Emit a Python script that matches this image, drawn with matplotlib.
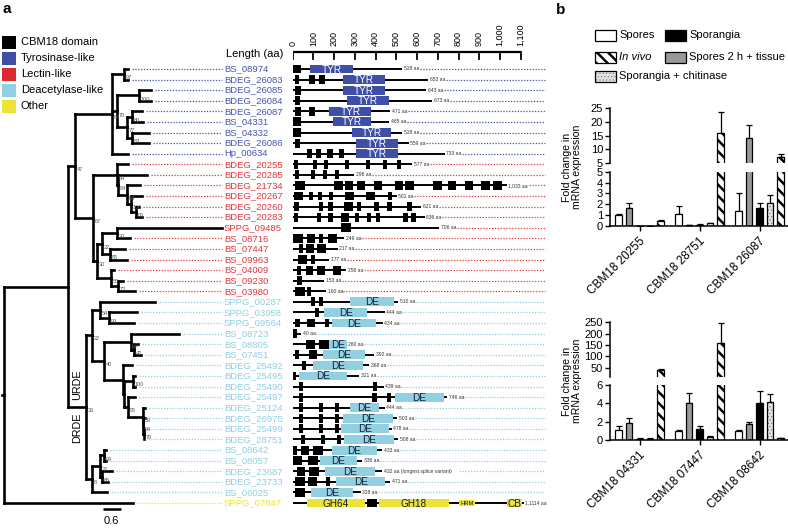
import matplotlib
matplotlib.use('Agg')
import matplotlib.pyplot as plt
from matplotlib.patches import Rectangle

W, H = 788, 529
plt.rcParams['font.family'] = ['Liberation Sans', 'DejaVu Sans']

# ---------------- DATA ----------------
# phylogeny (branch lengths in substitutions/site, internal labels = bootstrap)
NEWICK_TYR = ("((BS_08974:0.133,BDEG_26083:0.133)97:0.4,((BDEG_26085:0.4,BDEG_26084:0.4)100:0.733,"
              "((BDEG_26087:0.333,BS_04331:0.367)80:0.167,(BS_04332:0.567,BDEG_26086:0.567)83:0.167)77:0.333)70:0.167,"
              "Hp_00634:0.533)64")
NEWICK_LEC = ("((BDEG_20255:0.367,(BDEG_20285:0.967,(BDEG_21734:0.433,(BDEG_20267:0.367,"
              "(BDEG_20260:0.1,BDEG_20283:0.2)83:0.167)100:0.133)64:0.3)84:0.033)54:0.8,"
              "(((SPPG_09485:3.5,BS_08716:0.433)30:0.5,(BS_07447:0.5,BS_09963:0.567)85:0.267)22:0.167,"
              "(BS_04009:0.1,(BS_09230:0.167,BS_03980:0.567)72:0.233)50:0.467)30:0.133)67")
NEWICK_DE = ("(((SPPG_00287:1.833,(SPPG_03958:0.933,SPPG_09564:0.833)93:0.3)54:0.267,"
             "((BS_08723:1.6,(BS_08805:0.133,BS_07451:0.233)42:0.1)22:0.9,"
             "(BDEG_25492:0.3,((BDEG_25495:0.067,BDEG_25490:0.067)100:0.3,(BDEG_25497:0.233,"
             "(BDEG_25124:0.067,(BDEG_26975:0.05,(BDEG_25499:0.017,BDEG_28751:0.01)76:0.017)54:0.017)53:0.5)95:0.133):0.033):0.633)40:0.4)22:0.2,"
             "(((BS_08642:0.067,BS_08057:0.067)99:0.133,(BDEG_23687:0.333,BDEG_23733:0.2)65:0.067)32:0.267,BS_06025:0.5)8:0.2)33")
NEWICK = "(((" + NEWICK_TYR + ":1.233," + NEWICK_LEC + ":0.6)47:0.233," + NEWICK_DE + ":0.6):2.133,SPPG_07847:4.3);"

genes = ['BS_08974', 'BDEG_26083', 'BDEG_26085', 'BDEG_26084', 'BDEG_26087', 'BS_04331', 'BS_04332',
         'BDEG_26086', 'Hp_00634',
         'BDEG_20255', 'BDEG_20285', 'BDEG_21734', 'BDEG_20267', 'BDEG_20260', 'BDEG_20283', 'SPPG_09485',
         'BS_08716', 'BS_07447', 'BS_09963', 'BS_04009', 'BS_09230', 'BS_03980',
         'SPPG_00287', 'SPPG_03958', 'SPPG_09564', 'BS_08723', 'BS_08805', 'BS_07451', 'BDEG_25492',
         'BDEG_25495', 'BDEG_25490', 'BDEG_25497', 'BDEG_25124', 'BDEG_26975', 'BDEG_25499', 'BDEG_28751',
         'BS_08642', 'BS_08057', 'BDEG_23687', 'BDEG_23733', 'BS_06025',
         'SPPG_07847']
groups = ['tyr'] * 9 + ['lec'] * 13 + ['de'] * 19 + ['other']
lengths = [528, 653, 643, 673, 471, 465, 528, 559, 733,
           577, 298, 1033, 501, 621, 636, 706, 249, 217, 177, 258, 153, 160,
           510, 444, 434, 40, 260, 392, 368, 321, 439, 746, 444, 503, 478, 508, 433, 336, 432, 471, 328,
           1114]
length_labels = {11: '1,033 aa', 38: '432 aa (longest splice variant)', 41: '1,1114 aa'}

cbm_domains = [
    [(-10, 39)], [(13, 32), (77, 106), (125, 154)], [(13, 39)], [(10, 35)], [(13, 39), (77, 106)],
    [(-10, 39)], [(-10, 39)], [(10, 35)], [(68, 93), (113, 138), (167, 193), (222, 248)],
    [(6, 26), (96, 116), (151, 170), (251, 270), (354, 373), (438, 457), (502, 521)],
    [(13, 32), (87, 106), (145, 164), (203, 222)],
    [(13, 58), (199, 241), (254, 293), (309, 350), (392, 431), (492, 534), (543, 585), (678, 720),
     (749, 788), (830, 871), (910, 952), (968, 1010)],
    [(6, 51), (80, 100), (122, 141), (174, 196), (254, 296), (354, 395), (460, 479)],
    [(6, 29), (129, 148), (170, 196), (248, 293), (312, 331), (392, 415), (457, 479), (553, 576)],
    [(6, 26), (116, 135), (170, 193), (232, 270), (299, 318), (360, 379), (402, 421), (534, 556), (572, 595)],
    [(232, 280)],
    [(3, 51), (68, 109), (125, 148), (170, 212)],
    [(32, 48), (64, 103), (116, 161)],
    [(26, 68), (90, 109)],
    [(22, 42), (64, 100), (119, 158), (193, 235)],
    [(22, 45)],
    [(13, 58), (71, 90)],
    [(90, 109), (129, 148)], [(106, 129)], [(13, 35), (71, 109), (154, 177)], [(-6, 19)],
    [(64, 109), (129, 174)], [(10, 29), (77, 119)], [(45, 64)], [(-6, 16)], [(32, 51), (386, 408)],
    [(32, 51), (383, 405), (453, 473)], [(32, 51), (129, 148), (206, 225)], [(32, 51), (129, 148), (206, 225)],
    [(32, 51), (125, 145), (203, 222)], [(39, 58), (138, 158), (212, 232)],
    [(3, 23), (39, 77), (100, 145)], [(0, 45), (74, 122)], [(19, 61), (80, 125)],
    [(13, 58), (74, 119), (161, 180)], [(13, 58)],
    [(360, 408)],
]
main_domains = [
    [(84, 289, 'TYR')], [(241, 447, 'TYR')], [(241, 447, 'TYR')], [(260, 466, 'TYR')], [(177, 379, 'TYR')],
    [(193, 379, 'TYR')], [(286, 473, 'TYR')], [(305, 508, 'TYR')], [(305, 508, 'TYR')],
    [], [], [], [], [], [], [], [], [], [], [], [], [],
    [(277, 489, 'DE')], [(151, 360, 'DE')], [(190, 402, 'DE')], [], [(177, 260, 'DE')], [(145, 347, 'DE')],
    [(100, 338, 'DE')], [(29, 264, 'DE')], [], [(492, 730, 'DE')], [(277, 415, 'DE')], [(244, 482, 'DE')],
    [(232, 466, 'DE')], [(248, 489, 'DE')], [(190, 405, 'DE')], [(132, 309, 'DE')], [(158, 399, 'DE')],
    [(209, 447, 'DE')], [(90, 293, 'DE')],
    [(68, 347, 'GH64'), (415, 752, 'GH18'), (801, 878, 'HRM'), (1032, 1106, 'CB')],
]
ruler_ticks = list(range(0, 1101, 100))

legend_a = [('CBM18 domain', 'k'), ('Tyrosinase-like', '#3f4ea6'), ('Lectin-like', '#dd2a31'),
            ('Deacetylase-like', '#8fd0e2'), ('Other', '#ece337')]
group_colors = {'tyr': '#4655ad', 'lec': '#e0373d', 'de': '#8fcfe2', 'other': '#e9e23a'}
dom_colors = {'TYR': '#3f4fa8', 'DE': '#92cfe1', 'GH64': '#ece337', 'GH18': '#ece337', 'HRM': '#ece337',
              'CB': '#ece337'}

# panel b
conditions = ['Spores', 'Spores 2 h + tissue', 'Sporangia', 'Sporangia + chitinase', 'In vivo']
top_genes = ['CBM18 20255', 'CBM18 28751', 'CBM18 26087']
top_vals = [[1.0, 1.15, 1.4], [1.7, 0.08, 14.0], [0.02, 0.12, 1.7], [0.02, 0.25, 2.1], [0.42, 16.0, 7.2]]
top_errs = [[0.1, 0.7, 1.6], [0.45, 0.03, 4.8], [0.0, 0.04, 0.4], [0.0, 0.06, 0.8], [0.15, 7.6, 1.0]]
bot_genes = ['CBM18 04331', 'CBM18 07447', 'CBM18 08642']
bot_vals = [[1.05, 1.0, 1.0], [1.85, 4.0, 1.7], [0.15, 1.2, 4.05], [0.15, 0.35, 4.2], [38.0, 160.0, 0.18]]
bot_errs = [[0.45, 0.06, 0.1], [0.6, 1.15, 0.3], [0.05, 0.35, 1.25], [0.05, 0.08, 0.8], [7.0, 85.0, 0.08]]

# ---------------- FIGURE ----------------
fig = plt.figure(figsize=(W / 100, H / 100), dpi=100)


def px_axes(x0, y0, x1, y1):
    return fig.add_axes([x0 / W, 1 - y1 / H, (x1 - x0) / W, (y1 - y0) / H])


ROW0, DROW = 69.0, 10.585


def row_of(py):
    return (py - ROW0) / DROW


ov = px_axes(0, 0, W, H)
ov.set_xlim(0, W)
ov.set_ylim(H, 0)
ov.axis('off')
ov.patch.set_alpha(0)

# ---- tree ----
def parse_newick(s):
    pos = [0]

    def node():
        n = {'children': [], 'name': '', 'bl': 0.0}
        if s[pos[0]] == '(':
            pos[0] += 1
            while True:
                n['children'].append(node())
                c = s[pos[0]]
                pos[0] += 1
                if c == ')':
                    break
        st = pos[0]
        while s[pos[0]] not in ':,);':
            pos[0] += 1
        n['name'] = s[st:pos[0]]
        if s[pos[0]] == ':':
            pos[0] += 1
            st = pos[0]
            while s[pos[0]] not in ',);':
                pos[0] += 1
            n['bl'] = float(s[st:pos[0]])
        return n
    return node()


tree = parse_newick(NEWICK)
leaf_i = [0]


def layout(n, x0):
    n['x'] = x0 + n['bl']
    if not n['children']:
        n['y'] = leaf_i[0]
        leaf_i[0] += 1
    else:
        for c in n['children']:
            layout(c, n['x'])
        n['y'] = (n['children'][0]['y'] + n['children'][-1]['y']) / 2


layout(tree, 0.0)

PXU = 30.0  # pixels per tree unit
tax = px_axes(0, 0, 224, H)
tax.set_xlim(-4 / PXU, 220 / PXU)
tax.set_ylim(row_of(H), row_of(0))
tax.axis('off')
LABEL_X = 220 / PXU
TLW = 1.9


def draw(n, px):
    tax.plot([px, n['x']], [n['y'], n['y']], color='k', lw=TLW, solid_capstyle='projecting')
    if n['children']:
        ys = [c['y'] for c in n['children']]
        tax.plot([n['x'], n['x']], [min(ys), max(ys)], color='k', lw=TLW, solid_capstyle='projecting')
        for c in n['children']:
            draw(c, n['x'])
        if n['name']:
            tax.text(n['x'] + 0.06, n['y'] + 0.35, n['name'], fontsize=4, color='#555555',
                     ha='left', va='center')
    else:
        i = genes.index(n['name'])
        col = group_colors[groups[i]]
        if n['x'] + 0.15 < LABEL_X - 0.1:
            tax.plot([n['x'] + 0.12, LABEL_X - 0.06], [n['y'], n['y']], color=col, lw=0.9,
                     linestyle=(0, (1, 1.3)))
        tax.text(LABEL_X, n['y'], n['name'], fontsize=6.8, color=col, ha='left', va='center')


tax.plot([-0.06, 0], [tree['y'], tree['y']], color='k', lw=TLW)
draw(tree, 0.0)

# scale bar
sb_x = 98.7 / PXU
tax.plot([sb_x, sb_x + 0.6], [row_of(508.5)] * 2, color='k', lw=1.8, solid_capstyle='butt')
tax.text(sb_x + 0.3, row_of(521.5), '0.6', ha='center', va='center', fontsize=8)
tax.text(73 / PXU, row_of(385), 'URDE', rotation=90, ha='center', va='center', fontsize=7.8)
tax.text(73 / PXU, row_of(428), 'DRDE', rotation=90, ha='center', va='center', fontsize=7.8)

# ---- domain architecture ----
AAPX = 0.2073
DX0 = 292.7
dax = px_axes(DX0, 0, 560, H)
dax.set_xlim(0, (560 - DX0) / AAPX)
dax.set_ylim(row_of(H), row_of(0))
dax.axis('off')
DOT_END = (545 - DX0) / AAPX

for r in range(len(genes)):
    L = lengths[r]
    dax.plot([-12, L], [r, r], color='k', lw=1.4, solid_capstyle='butt', zorder=2)
    for (s, e) in cbm_domains[r]:
        dax.add_patch(Rectangle((s, r - 0.42), e - s, 0.84, fc='k', ec='none', zorder=3))
    for (s, e, lab) in main_domains[r]:
        h = 0.55 if lab == 'HRM' else 0.84
        dax.add_patch(Rectangle((s, r - h / 2), e - s, h, fc=dom_colors[lab], ec='none', zorder=3))
        tc = 'white' if lab == 'TYR' else '#10203a'
        dax.text((s + e) / 2, r + 0.05, lab, ha='center', va='center', color=tc,
                 fontsize=4.2 if lab == 'HRM' else 7.2, zorder=4)
    lab = length_labels.get(r, '%d aa' % L)
    dax.text(L + 8, r, lab, fontsize=3.6, color='#333333', ha='left', va='center')
    dstart = L + 8 + len(lab) * 11.5 + 8
    if dstart < DOT_END:
        dax.plot([dstart, DOT_END], [r, r], color=group_colors[groups[r]], lw=0.9, linestyle=(0, (1, 1.3)))

# ruler
ry = row_of(52)
dax.plot([0, 1100], [ry, ry], color='k', lw=1.6, solid_capstyle='butt')
for t in ruler_ticks:
    dax.plot([t, t], [ry, row_of(58.5)], color='k', lw=1.3)
    dax.text(t, row_of(46), format(t, ','), rotation=90, ha='center', va='bottom', fontsize=6.5)
ov.text(283, 54, 'Length (aa)', ha='right', va='center', fontsize=8)

# legend a
for k, (lab, c) in enumerate(legend_a):
    cy = 42 + 16 * k
    ov.add_patch(Rectangle((2.5, cy - 6.5), 14, 13, fc=c, ec='none'))
    ov.text(21, cy, lab, ha='left', va='center', fontsize=8)
ov.text(3, 9, 'a', fontsize=11, fontweight='bold', ha='left', va='center')
ov.text(556, 10, 'b', fontsize=11, fontweight='bold', ha='left', va='center')

# ---- panel b ----
styles = [dict(fc='white', ec='k', hatch=None, hlw=None),
          dict(fc='#999999', ec='k', hatch=None, hlw=None),
          dict(fc='black', ec='k', hatch=None, hlw=None),
          dict(fc='#e4e4e4', ec='#7a7a7a', hatch='.....', hlw=0.5),
          dict(fc='white', ec='k', hatch='\\\\\\', hlw=1.8)]
offsets = [-0.35, -0.175, 0.0, 0.175, 0.35]
BW = 0.115
GX0 = 639.5
GPX = 60.0
AX_X0, AX_X1 = 610, 788
XL = ((AX_X0 - GX0) / GPX, (AX_X1 - GX0) / GPX)


def draw_bars(ax, vals, errs, vmin):
    for j in range(5):
        st = styles[j]
        idx = [g for g in range(3) if vals[j][g] > vmin]
        if not idx:
            continue
        xs = [g + offsets[j] for g in idx]
        vs = [vals[j][g] for g in idx]
        es = [errs[j][g] for g in idx]
        if st['hatch']:
            plt.rcParams['hatch.linewidth'] = st['hlw']
            bc = ax.bar(xs, vs, width=BW, color=st['fc'], edgecolor=st['ec'], hatch=st['hatch'],
                        lw=0, zorder=2)
            for p in bc.patches:
                if hasattr(p, 'set_hatch_linewidth'):
                    p.set_hatch_linewidth(st['hlw'])
            ax.bar(xs, vs, width=BW, fill=False, edgecolor='k', lw=0.9, zorder=3)
        else:
            ax.bar(xs, vs, width=BW, color=st['fc'], edgecolor='k', lw=0.9, zorder=2)
        ax.errorbar(xs, vs, yerr=[[0] * len(xs), es], fmt='none', ecolor='k', elinewidth=0.9,
                    capsize=2.2, capthick=0.9, zorder=1)


def style_axes(ax, is_low):
    ax.set_xlim(*XL)
    for s in ('top', 'right'):
        ax.spines[s].set_visible(False)
    ax.spines['left'].set_linewidth(1.1)
    ax.spines['bottom'].set_linewidth(1.1)
    ax.tick_params(axis='y', direction='out', length=3.5, width=1.0, labelsize=8, pad=1.5)
    if not is_low:
        ax.spines['bottom'].set_visible(False)
        ax.set_xticks([])
    ax.patch.set_alpha(0)


def panel(y_hi0, y_hi1, y_lo0, y_lo1, hi_lim, lo_lim, hi_ticks, lo_ticks, gnames, vals, errs):
    ah = px_axes(AX_X0, y_hi0, AX_X1, y_hi1)
    al = px_axes(AX_X0, y_lo0, AX_X1, y_lo1)
    draw_bars(ah, vals, errs, hi_lim[0])
    draw_bars(al, vals, errs, -1)
    ah.set_ylim(*hi_lim)
    al.set_ylim(*lo_lim)
    ah.set_yticks(hi_ticks)
    al.set_yticks(lo_ticks)
    style_axes(ah, False)
    style_axes(al, True)
    al.set_xticks([0, 1, 2])
    al.set_xticklabels(gnames, rotation=45, ha='right', va='top', rotation_mode='anchor', fontsize=8.5)
    al.tick_params(axis='x', direction='out', length=3.5, width=1.0, pad=3)
    return ah, al


panel(108.3, 163, 171.7, 226, (5, 25), (0, 5), [5, 10, 15, 20, 25], [0, 1, 2, 3, 4, 5],
      top_genes, top_vals, top_errs)
panel(322.3, 376.7, 385, 440, (10, 250), (0, 6), [50, 100, 150, 200, 250], [0, 2, 4, 6],
      bot_genes, bot_vals, bot_errs)

for cy in (167, 381):
    ov.text(572, cy, 'Fold change in\nmRNA expression', rotation=90, ha='center', va='center',
            fontsize=7.6, linespacing=1.05, multialignment='center')

# legend b
leg_pos = [(595, 35), (595, 57), (595, 76), (665, 35), (665, 57)]
leg_order = [0, 4, 3, 2, 1]
for (lx, ly), j in zip(leg_pos, leg_order):
    st = styles[j]
    if st['hatch']:
        plt.rcParams['hatch.linewidth'] = st['hlw']
        p = Rectangle((lx, ly - 5.5), 21, 11, fc=st['fc'], ec=st['ec'], hatch=st['hatch'], lw=0)
        if hasattr(p, 'set_hatch_linewidth'):
            p.set_hatch_linewidth(st['hlw'])
        ov.add_patch(p)
        ov.add_patch(Rectangle((lx, ly - 5.5), 21, 11, fill=False, ec='k', lw=0.9))
    else:
        ov.add_patch(Rectangle((lx, ly - 5.5), 21, 11, fc=st['fc'], ec='k', lw=0.9))
    style = 'italic' if j == 4 else 'normal'
    ov.text(lx + 24, ly, conditions[j], ha='left', va='center', fontsize=8, style=style)

fig.savefig('out.png', dpi=100)
